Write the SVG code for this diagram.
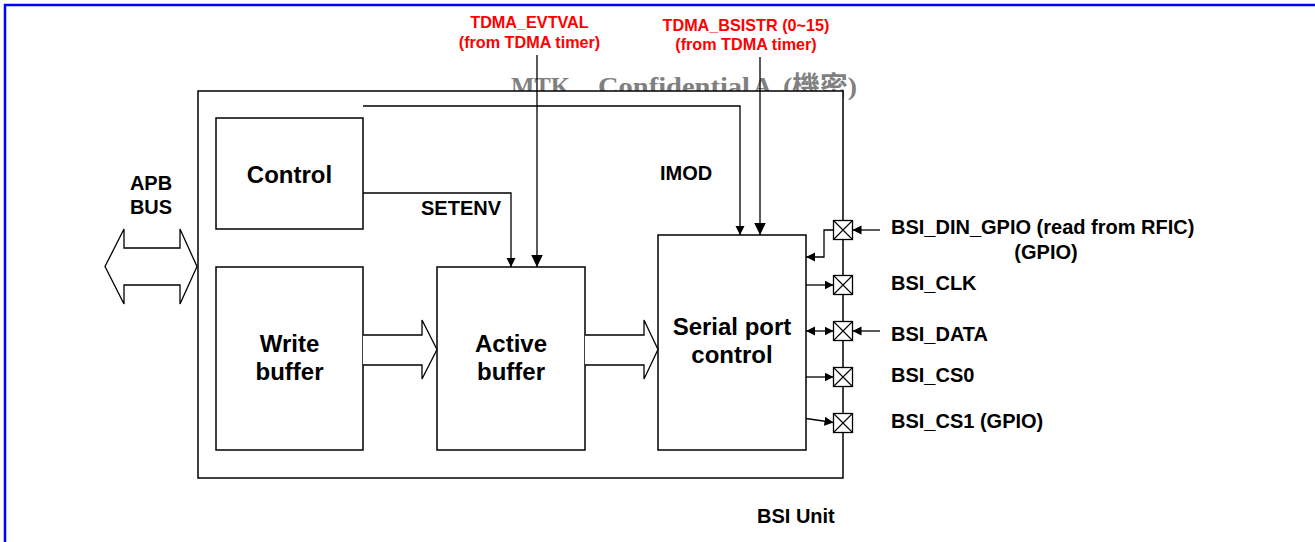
<svg xmlns="http://www.w3.org/2000/svg" xmlns:xlink="http://www.w3.org/1999/xlink" width="1315" height="542" viewBox="0 0 1315 542">
<style>
.box{fill:#fff;stroke:#000;stroke-width:1.5}
.ln{fill:none;stroke:#000;stroke-width:1.3}
.blk{fill:#fff;stroke:#000;stroke-width:1.3}
.t{font-family:"Liberation Sans",Arial,sans-serif;font-weight:bold;fill:#000}
.big{font-size:24px}
.mid{font-size:20px}
.pin{font-size:20px}
.red{font-family:"Liberation Sans",Arial,sans-serif;font-weight:bold;fill:#ff0000;font-size:16.2px}
.wm{font-family:"Liberation Serif","Noto Sans CJK TC",serif;font-weight:bold;fill:#808080;font-size:26px}
</style>
<defs>
<marker id="a" markerUnits="userSpaceOnUse" markerWidth="10" markerHeight="10" refX="9" refY="4.5" orient="auto-start-reverse"><path d="M0,0 L9,4.5 L0,9 Z" fill="#000"/></marker>
<marker id="A" markerUnits="userSpaceOnUse" markerWidth="14" markerHeight="14" refX="12.5" refY="6" orient="auto"><path d="M0,0 L12.5,6 L0,12 Z" fill="#000"/></marker>
<g id="pad"><rect x="-9.5" y="-9.5" width="19" height="19" fill="#fff" stroke="#000" stroke-width="1.3"/><path d="M-9.5,-9.5 L9.5,9.5 M9.5,-9.5 L-9.5,9.5" stroke="#000" stroke-width="1.1"/></g>
</defs>
<rect x="0" y="0" width="1315" height="542" fill="#fff"/>
<path d="M5,542 V5 H1315" fill="none" stroke="#0000ff" stroke-width="2.5"/>

<g id="watermark">
<text class="wm" x="511" y="95" textLength="59" lengthAdjust="spacingAndGlyphs">MTK</text>
<text class="wm" x="598" y="95" textLength="152" lengthAdjust="spacingAndGlyphs">Confidential</text>
<text class="wm" x="753" y="95">A</text>
<text class="wm" x="783" y="95" textLength="74" lengthAdjust="spacingAndGlyphs">(機密)</text>
</g>

<g id="bsi-unit">
<rect class="box" x="198" y="91" width="645" height="387"/>
<text class="t mid" x="757" y="523">BSI Unit</text>
</g>

<g id="red-labels">
<text class="red" x="529.5" y="28" text-anchor="middle">TDMA_EVTVAL</text>
<text class="red" x="529.5" y="48" text-anchor="middle">(from TDMA timer)</text>
<text class="red" x="746" y="31" text-anchor="middle">TDMA_BSISTR (0~15)</text>
<text class="red" x="746" y="50" text-anchor="middle">(from TDMA timer)</text>
</g>

<g id="control">
<rect class="box" x="216" y="118" width="147" height="111"/>
<text class="t big" x="289.5" y="183" text-anchor="middle">Control</text>
</g>
<g id="write-buffer">
<rect class="box" x="216" y="267" width="147" height="183"/>
<text class="t big" x="289.5" y="352" text-anchor="middle">Write</text>
<text class="t big" x="289.5" y="380" text-anchor="middle">buffer</text>
</g>
<g id="active-buffer">
<rect class="box" x="437" y="267" width="148" height="183"/>
<text class="t big" x="511" y="352" text-anchor="middle">Active</text>
<text class="t big" x="511" y="380" text-anchor="middle">buffer</text>
</g>
<g id="serial-port-control">
<rect class="box" x="658" y="235" width="148" height="215"/>
<text class="t big" x="732" y="335" text-anchor="middle">Serial port</text>
<text class="t big" x="732" y="363" text-anchor="middle">control</text>
</g>

<g id="apb-bus">
<path class="blk" d="M124,248 H180 V229 L197,266.5 L180,304 V285 H124 V304 L105,266.5 L124,229 Z"/>
<text class="t mid" x="151" y="190" text-anchor="middle">APB</text>
<text class="t mid" x="151" y="214" text-anchor="middle">BUS</text>
</g>

<g id="pads">
<use xlink:href="#pad" x="843" y="230"/>
<use xlink:href="#pad" x="843" y="285"/>
<use xlink:href="#pad" x="843" y="331"/>
<use xlink:href="#pad" x="843" y="377"/>
<use xlink:href="#pad" x="843" y="423"/>
</g>

<g id="connectors">
<path class="blk" d="M363,335 H422 V320 L437,349.5 L422,379 V365 H363"/>
<path class="blk" d="M585,335 H644 V320 L658,349.5 L644,379 V365 H585"/>
<path class="ln" d="M363,106 H740 V235" marker-end="url(#a)"/>
<path class="ln" d="M363,193 H511 V267" marker-end="url(#a)"/>
<path class="ln" d="M537,55 V267" marker-end="url(#A)"/>
<path class="ln" d="M760,57 V235" marker-end="url(#A)"/>
<path class="ln" d="M833.5,230 H824 V257 H806" marker-end="url(#a)"/>
<path class="ln" d="M880,230 H852.5" marker-end="url(#a)"/>
<path class="ln" d="M806,285 H833.5" marker-end="url(#a)"/>
<path class="ln" d="M806,331 H833.5" marker-start="url(#a)" marker-end="url(#a)"/>
<path class="ln" d="M880,331 H852.5" marker-end="url(#a)"/>
<path class="ln" d="M806,377 H833.5" marker-end="url(#a)"/>
<path class="ln" d="M806,418.5 L833.5,422.5" marker-end="url(#a)"/>
</g>

<g id="pin-labels">
<text class="t pin" x="891" y="234">BSI_DIN_GPIO (read from RFIC)</text>
<text class="t pin" x="1046" y="259" text-anchor="middle">(GPIO)</text>
<text class="t pin" x="891" y="290">BSI_CLK</text>
<text class="t pin" x="891" y="340.5">BSI_DATA</text>
<text class="t pin" x="891" y="381.5">BSI_CS0</text>
<text class="t pin" x="891" y="428">BSI_CS1 (GPIO)</text>
</g>

<g id="signal-labels">
<text class="t mid" x="660" y="180">IMOD</text>
<text class="t mid" x="421" y="215">SETENV</text>
</g>
</svg>
